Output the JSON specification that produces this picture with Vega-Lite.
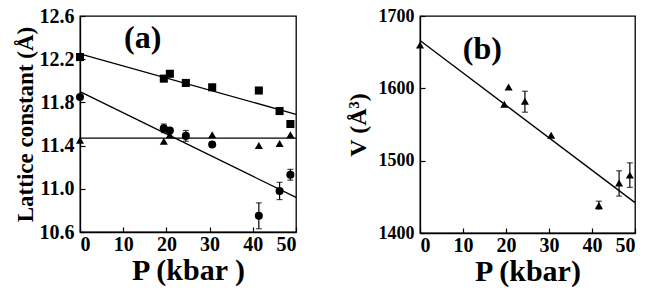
{
  "$schema": "https://vega.github.io/schema/vega-lite/v6.json",
  "padding": {"left": 13, "top": 5, "right": 5, "bottom": 0},
  "background": "white",
  "config": {
    "font": "Liberation Serif",
    "view": {"stroke": "black", "strokeWidth": 1.3},
    "concat": {"spacing": 45},
    "axis": {
      "domainColor": "black", "domainWidth": 1.3, "grid": false,
      "tickColor": "black", "tickSize": -5, "tickWidth": 1.2,
      "labelFont": "Liberation Serif", "labelFontWeight": "bold", "labelFontSize": 20, "labelColor": "black",
      "titleFont": "Liberation Serif", "titleFontWeight": "bold", "titleColor": "black"
    }
  },
  "datasets": {
    "aPts": [
      {"P": 0, "v": 12.22, "s": "sq"},
      {"P": 19.4, "v": 12.02, "s": "sq"},
      {"P": 20.8, "v": 12.065, "s": "sq"},
      {"P": 24.5, "v": 11.98, "s": "sq"},
      {"P": 30.6, "v": 11.94, "s": "sq"},
      {"P": 41.4, "v": 11.91, "s": "sq"},
      {"P": 46.2, "v": 11.72, "s": "sq"},
      {"P": 48.7, "v": 11.6, "s": "sq"},
      {"P": 0, "v": 11.85, "s": "ci"},
      {"P": 19.4, "v": 11.56, "s": "ci", "lo": 11.52, "hi": 11.6},
      {"P": 20.8, "v": 11.54, "s": "ci"},
      {"P": 24.5, "v": 11.49, "s": "ci", "lo": 11.44, "hi": 11.54},
      {"P": 30.6, "v": 11.41, "s": "ci"},
      {"P": 41.4, "v": 10.75, "s": "ci", "lo": 10.63, "hi": 10.87},
      {"P": 46.2, "v": 10.98, "s": "ci", "lo": 10.9, "hi": 11.06},
      {"P": 48.7, "v": 11.13, "s": "ci", "lo": 11.08, "hi": 11.18},
      {"P": 0, "v": 11.45, "s": "tr"},
      {"P": 19.4, "v": 11.44, "s": "tr"},
      {"P": 20.8, "v": 11.5, "s": "tr"},
      {"P": 30.6, "v": 11.5, "s": "tr"},
      {"P": 41.4, "v": 11.4, "s": "tr"},
      {"P": 46.2, "v": 11.42, "s": "tr"},
      {"P": 48.7, "v": 11.5, "s": "tr"}
    ],
    "aLines": [
      {"P": 0, "v": 12.25, "s": "sq"},
      {"P": 50, "v": 11.69, "s": "sq"},
      {"P": 0, "v": 11.9, "s": "ci"},
      {"P": 50, "v": 10.92, "s": "ci"},
      {"P": 0, "v": 11.47, "s": "tr"},
      {"P": 50, "v": 11.47, "s": "tr"}
    ],
    "bPts": [
      {"P": 0, "v": 1660},
      {"P": 19.6, "v": 1578},
      {"P": 20.6, "v": 1602},
      {"P": 24.4, "v": 1582, "lo": 1567, "hi": 1596},
      {"P": 30.5, "v": 1535},
      {"P": 41.6, "v": 1438, "lo": 1433, "hi": 1444},
      {"P": 46.3, "v": 1469, "lo": 1451, "hi": 1486},
      {"P": 48.8, "v": 1480, "lo": 1463, "hi": 1497}
    ],
    "bLine": [
      {"P": 0, "v": 1666},
      {"P": 50, "v": 1442}
    ],
    "aLab": [{"P": 14.5, "v": 12.4, "t": "(a)"}],
    "bLab": [{"P": 14.5, "v": 1655, "t": "(b)"}]
  },
  "hconcat": [
    {
      "width": 216, "height": 216,
      "layer": [
        {
          "data": {"name": "aLines"},
          "mark": {"type": "line", "color": "black", "strokeWidth": 1.3},
          "encoding": {
            "x": {"field": "P", "type": "quantitative", "scale": {"domain": [0, 50]},
              "axis": {"values": [0, 10, 20, 30, 40, 50], "title": "P (kbar )", "titleFontSize": 30, "titlePadding": 1, "labelPadding": 7}},
            "y": {"field": "v", "type": "quantitative", "scale": {"domain": [10.6, 12.6]},
              "axis": {"values": [10.6, 11.0, 11.4, 11.8, 12.2, 12.6], "format": ".1f", "title": "Lattice constant (Å)", "titleFontSize": 23, "titlePadding": 2, "labelPadding": 11}},
            "detail": {"field": "s"}
          }
        },
        {
          "data": {"name": "aPts"},
          "mark": {"type": "rule", "color": "black", "strokeWidth": 1.2},
          "encoding": {
            "x": {"field": "P", "type": "quantitative"},
            "y": {"field": "lo", "type": "quantitative"},
            "y2": {"field": "hi"}
          }
        },
        {
          "data": {"name": "aPts"},
          "mark": {"type": "tick", "color": "black", "size": 6, "thickness": 1.2, "orient": "horizontal"},
          "encoding": {
            "x": {"field": "P", "type": "quantitative"},
            "y": {"field": "lo", "type": "quantitative"}
          }
        },
        {
          "data": {"name": "aPts"},
          "mark": {"type": "tick", "color": "black", "size": 6, "thickness": 1.2, "orient": "horizontal"},
          "encoding": {
            "x": {"field": "P", "type": "quantitative"},
            "y": {"field": "hi", "type": "quantitative"}
          }
        },
        {
          "data": {"name": "aPts"},
          "mark": {"type": "point", "filled": true, "color": "black", "opacity": 1, "size": 65, "clip": false},
          "encoding": {
            "x": {"field": "P", "type": "quantitative"},
            "y": {"field": "v", "type": "quantitative"},
            "shape": {"field": "s", "type": "nominal", "scale": {"domain": ["sq", "ci", "tr"], "range": ["square", "circle", "triangle-up"]}, "legend": null}
          }
        },
        {
          "data": {"name": "aLab"},
          "mark": {"type": "text", "font": "Liberation Serif", "fontWeight": "bold", "fontSize": 32, "color": "black"},
          "encoding": {
            "x": {"field": "P", "type": "quantitative"},
            "y": {"field": "v", "type": "quantitative"},
            "text": {"field": "t"}
          }
        }
      ]
    },
    {
      "width": 215, "height": 217,
      "layer": [
        {
          "data": {"name": "bLine"},
          "mark": {"type": "line", "color": "black", "strokeWidth": 1.3},
          "encoding": {
            "x": {"field": "P", "type": "quantitative", "scale": {"domain": [0, 50]},
              "axis": {"values": [0, 10, 20, 30, 40, 50], "title": "P (kbar)", "titleFontSize": 30, "titlePadding": 1, "labelPadding": 7}},
            "y": {"field": "v", "type": "quantitative", "scale": {"domain": [1400, 1700]},
              "axis": {"values": [1400, 1450, 1500, 1550, 1600, 1650, 1700], "format": "d", "labelExpr": "datum.value % 100 == 0 ? datum.label : ''", "title": "V (Å³)", "titleFontSize": 24, "titlePadding": 8, "labelPadding": 11, "labelFontSize": 18}}
          }
        },
        {
          "data": {"name": "bPts"},
          "mark": {"type": "rule", "color": "black", "strokeWidth": 1.2},
          "encoding": {
            "x": {"field": "P", "type": "quantitative"},
            "y": {"field": "lo", "type": "quantitative"},
            "y2": {"field": "hi"}
          }
        },
        {
          "data": {"name": "bPts"},
          "mark": {"type": "tick", "color": "black", "size": 6, "thickness": 1.2, "orient": "horizontal"},
          "encoding": {
            "x": {"field": "P", "type": "quantitative"},
            "y": {"field": "lo", "type": "quantitative"}
          }
        },
        {
          "data": {"name": "bPts"},
          "mark": {"type": "tick", "color": "black", "size": 6, "thickness": 1.2, "orient": "horizontal"},
          "encoding": {
            "x": {"field": "P", "type": "quantitative"},
            "y": {"field": "hi", "type": "quantitative"}
          }
        },
        {
          "data": {"name": "bPts"},
          "mark": {"type": "point", "shape": "triangle-up", "filled": true, "color": "black", "opacity": 1, "size": 65, "clip": false},
          "encoding": {
            "x": {"field": "P", "type": "quantitative"},
            "y": {"field": "v", "type": "quantitative"}
          }
        },
        {
          "data": {"name": "bLab"},
          "mark": {"type": "text", "font": "Liberation Serif", "fontWeight": "bold", "fontSize": 32, "color": "black"},
          "encoding": {
            "x": {"field": "P", "type": "quantitative"},
            "y": {"field": "v", "type": "quantitative"},
            "text": {"field": "t"}
          }
        }
      ]
    }
  ]
}
